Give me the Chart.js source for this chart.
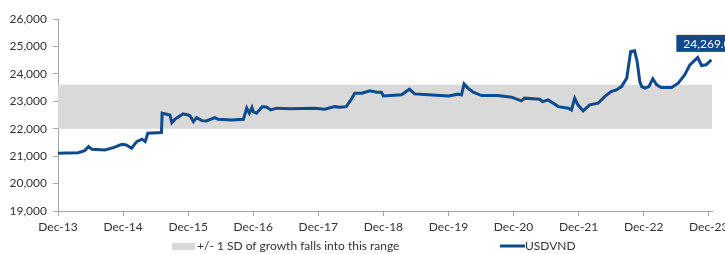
<!DOCTYPE html>
<html>
<head>
<meta charset="utf-8">
<script src="https://cdn.jsdelivr.net/npm/chart.js@4.4.1/dist/chart.umd.min.js"></script>
<style>
  html, body { margin: 0; padding: 0; background: #fff; }
  #wrap { width: 725px; height: 254px; position: relative; }
</style>
</head>
<body>
<div id="wrap"><canvas id="fxChart"></canvas></div>
<script>
// x = years since Dec-13
const yearLabels = ['Dec-13', 'Dec-14', 'Dec-15', 'Dec-16', 'Dec-17', 'Dec-18', 'Dec-19', 'Dec-20', 'Dec-21', 'Dec-22', 'Dec-23'];
const t = [0.00, 0.31, 0.41, 0.47, 0.52, 0.72, 0.85, 0.98, 1.05, 1.13, 1.21, 1.29, 1.34, 1.38, 1.59, 1.60,
  1.72, 1.75, 1.80, 1.92, 2.00, 2.03, 2.08, 2.13, 2.21, 2.28, 2.41, 2.46, 2.67, 2.85, 2.90, 2.94, 2.98,
  3.00, 3.05, 3.14, 3.21, 3.27, 3.36, 3.56, 3.95, 4.10, 4.25, 4.33, 4.43, 4.50, 4.56, 4.67, 4.79, 4.90,
  4.97, 5.00, 5.28, 5.40, 5.48, 5.69, 6.00, 6.15, 6.20, 6.24, 6.30, 6.38, 6.51, 6.76, 6.97, 7.12, 7.17,
  7.40, 7.45, 7.53, 7.69, 7.84, 7.89, 7.94, 7.99, 8.07, 8.17, 8.30, 8.40, 8.50, 8.58, 8.66, 8.74, 8.80,
  8.86, 8.90, 8.94, 8.97, 9.02, 9.08, 9.14, 9.20, 9.27, 9.43, 9.53, 9.63, 9.71, 9.83, 9.89, 9.96, 10.04];
const usdvnd = [21106, 21125, 21200, 21350, 21250, 21225, 21310, 21430, 21410, 21290, 21530, 21620, 21530, 21835, 21860, 22565,
  22500, 22220, 22350, 22540, 22500, 22470, 22260, 22405, 22295, 22285, 22405, 22345, 22320, 22345, 22750, 22565, 22770,
  22625, 22565, 22805, 22785, 22685, 22750, 22730, 22745, 22710, 22805, 22785, 22805, 23050, 23295, 23295, 23380, 23330,
  23330, 23195, 23235, 23440, 23270, 23235, 23195, 23260, 23230, 23635, 23480, 23330, 23210, 23210, 23150, 23015, 23115,
  23075, 22990, 23050, 22805, 22750, 22685, 23115, 22870, 22650, 22870, 22930, 23170, 23355, 23415, 23535, 23845, 24815,
  24840, 24450, 23720, 23535, 23480, 23535, 23820, 23600, 23500, 23500, 23660, 23965, 24330, 24595, 24305, 24330, 24510];
const bandX = [0, 10.05];
const bandLow = [22000, 22000];
const bandHigh = [23600, 23600];
const lastLabel = '24,269.0';
const bandName = '+/- 1 SD of growth falls into this range';
const lineName = 'USDVND';

const blue = '#0b4a8d';
const grey = '#d9d9d9';
const axisGrey = '#a6a6a6';
const txt = '#333333';
const font = 'Lato';

const toXY = (xs, ys) => xs.map((x, i) => ({ x: x, y: ys[i] }));

// data label box + custom legend
const extras = {
  id: 'extras',
  afterDatasetsDraw(chart) {
    const c = chart.ctx;
    const meta = chart.getDatasetMeta(2);
    const last = meta.data[meta.data.length - 1];
    c.save();
    c.fillStyle = blue;
    c.fillRect(last.x - 35, last.y - 25, 60, 17);
    c.fillStyle = '#fff';
    c.font = '12px ' + font;
    c.textBaseline = 'middle';
    c.fillText(lastLabel, last.x - 28, last.y - 16);
    c.restore();
  },
  afterDraw(chart) {
    const c = chart.ctx;
    const y = 246;
    c.save();
    c.fillStyle = grey;
    c.fillRect(172, y - 3, 23, 7);
    c.strokeStyle = blue;
    c.lineWidth = 3;
    c.beginPath();
    c.moveTo(500, y);
    c.lineTo(525, y);
    c.stroke();
    c.fillStyle = txt;
    c.font = '12px ' + font;
    c.textBaseline = 'middle';
    c.fillText(bandName, 197, y);
    c.fillText(lineName, 525, y);
    c.restore();
  }
};

const ctx = document.getElementById('fxChart').getContext('2d');
const chart = new Chart(ctx, {
  type: 'line',
  data: {
    datasets: [
      { label: 'low', data: toXY(bandX, bandLow), borderWidth: 0, pointRadius: 0, fill: false, order: 2 },
      { label: bandName, data: toXY(bandX, bandHigh), borderWidth: 0, pointRadius: 0,
        backgroundColor: grey, fill: '-1', order: 1 },
      { label: lineName, data: toXY(t, usdvnd), borderColor: blue, borderWidth: 3,
        pointRadius: 0, tension: 0, fill: false, order: 0 }
    ]
  },
  options: {
    responsive: true,
    maintainAspectRatio: false,
    animation: false,
    layout: { padding: { left: 0, right: 13, top: 19, bottom: 21 } },
    plugins: {
      legend: { display: false },
      tooltip: { enabled: false },
      filler: { drawTime: 'beforeDatasetsDraw' }
    },
    scales: {
      x: {
        type: 'linear',
        min: 0,
        max: 10.05,
        grid: { display: true, drawOnChartArea: false, drawTicks: true, tickLength: 5, color: axisGrey },
        border: { display: true, color: axisGrey },
        ticks: {
          stepSize: 1,
          autoSkip: false,
          maxRotation: 0,
          padding: 4,
          color: txt,
          font: { family: font, size: 12 },
          callback: (v) => yearLabels[v]
        },
        afterBuildTicks: (s) => { s.ticks = yearLabels.map((_, i) => ({ value: i })); },
        afterFit: (s) => { s.height = 22; s.paddingLeft = 0; s.paddingRight = 0; }
      },
      y: {
        min: 19000,
        max: 26000,
        grid: { display: true, drawOnChartArea: false, drawTicks: true, tickLength: 5, color: axisGrey },
        border: { display: true, color: axisGrey },
        ticks: {
          stepSize: 1000,
          padding: 6,
          color: txt,
          font: { family: font, size: 12 },
          callback: (v) => v.toLocaleString('en-US')
        },
        afterFit: (s) => { s.width = 58; s.paddingTop = 0; s.paddingBottom = 0; }
      }
    }
  },
  plugins: [extras]
});
</script>
</body>
</html>
